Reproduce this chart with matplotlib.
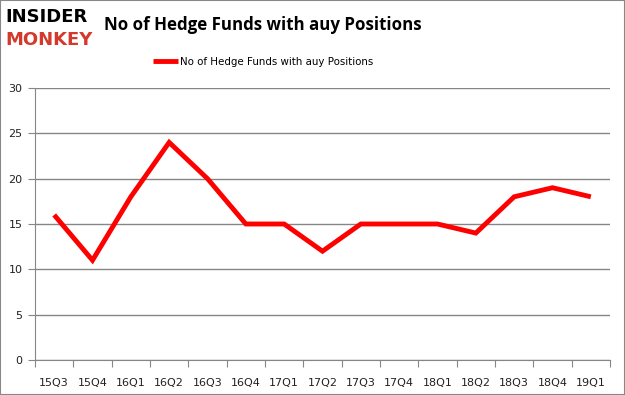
import matplotlib
matplotlib.use("Agg")
import matplotlib.pyplot as plt
from matplotlib.patches import Rectangle

categories = ["15Q3", "15Q4", "16Q1", "16Q2", "16Q3", "16Q4", "17Q1", "17Q2",
              "17Q3", "17Q4", "18Q1", "18Q2", "18Q3", "18Q4", "19Q1"]
values = [16, 11, 18, 24, 20, 15, 15, 12, 15, 15, 15, 14, 18, 19, 18]
yticks = [0, 5, 10, 15, 20, 25, 30]
series_name = "No of Hedge Funds with auy Positions"
title = "No of Hedge Funds with auy Positions"

fig = plt.figure(figsize=(6.25, 3.95), dpi=100)
W, H = 625, 395
ax = fig.add_axes([35 / W, 1 - 360 / H, (610 - 35) / W, (360 - 88) / H])

n = len(categories)
x = list(range(n))
ax.plot(x, values, color="#ff0000", lw=3.5, solid_joinstyle="miter", solid_capstyle="butt",
        label=series_name, zorder=3)
ax.set_xlim(-0.5, n - 0.5)
ax.set_ylim(0, 30)
ax.set_yticks(yticks)
ax.set_yticklabels([str(v) for v in yticks])
ax.yaxis.grid(True, color="#868686", lw=1)
ax.set_axisbelow(True)
ax.set_xticks([i - 0.5 for i in range(n + 1)])
ax.set_xticklabels([])
ax.set_xticks(x, minor=True)
ax.set_xticklabels(categories, minor=True)
ax.tick_params(axis="x", which="major", length=5, color="#868686", direction="out")
ax.tick_params(axis="x", which="minor", length=0, pad=13, labelsize=8, labelcolor="#222222")
ax.tick_params(axis="y", length=5, color="#868686", labelsize=8, labelcolor="#222222", pad=4)
for s in ["top", "right"]:
    ax.spines[s].set_visible(False)
for s in ["left", "bottom"]:
    ax.spines[s].set_color("#868686")
for lbl in ax.get_xticklabels(minor=True) + ax.get_yticklabels():
    lbl.set_family("DejaVu Sans")

fig.text(104 / W, 1 - 25 / H, title, fontsize=12.2, fontweight="bold", family="Open Sans",
         va="center", ha="left", color="black")
fig.legend(loc="center", bbox_to_anchor=(263 / W, 1 - 62 / H), frameon=False, fontsize=7.4,
         handlelength=2.4, handletextpad=0.2)

fig.text(5 / W, 1 - 17 / H, "INSIDER", fontsize=13, fontweight="heavy", family="DejaVu Sans",
         color="black", va="center", ha="left")
fig.text(5 / W, 1 - 40 / H, "MONKEY", fontsize=13, fontweight="heavy", family="DejaVu Sans",
         color="#d33a2c", va="center", ha="left")

fig.patches.append(Rectangle((0, 0), 1, 1, transform=fig.transFigure, fill=False,
                             edgecolor="#888888", lw=1.5))
fig.savefig("out.png", dpi=100)
